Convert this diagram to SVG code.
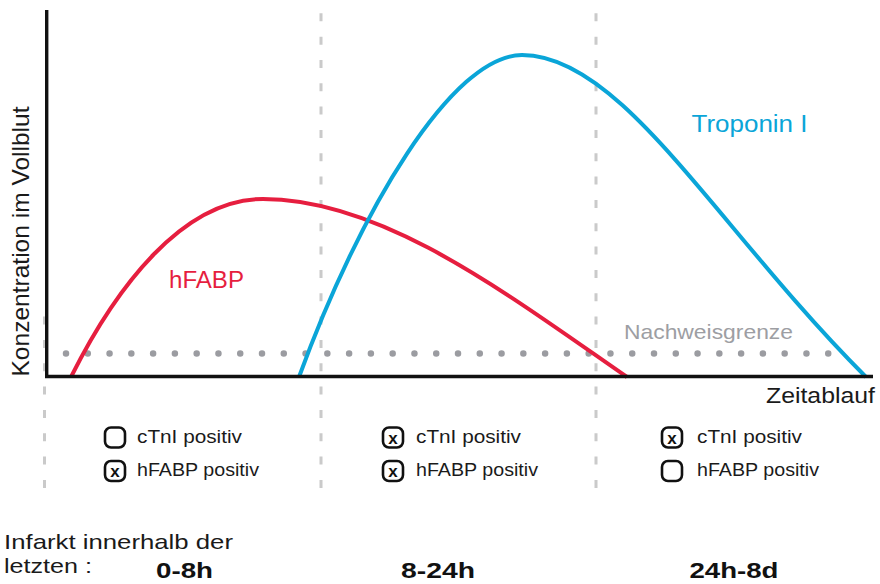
<svg xmlns="http://www.w3.org/2000/svg" width="880" height="584" viewBox="0 0 880 584">
  <style>
    .grid { stroke: #cacaca; stroke-width: 3; stroke-dasharray: 8 15.33; fill: none; }
    .dots { stroke: #9b9ca1; stroke-width: 6.5; stroke-linecap: round; stroke-dasharray: 0 21.778; fill: none; }
    .axis { stroke: #111; stroke-width: 3.4; fill: none; }
    .curve { fill: none; stroke-width: 4; stroke-linecap: butt; }
    .red { stroke: #e61e3f; }
    .blue { stroke: #0aa5d8; }
    .t { font-family: "Liberation Sans", Arial, sans-serif; fill: #1a1a1a; }
    .leg { font-family: "Liberation Sans", Arial, sans-serif; font-size: 18px; fill: #1a1a1a; }
    .bold { font-family: "Liberation Sans", Arial, sans-serif; font-weight: bold; font-size: 22px; fill: #111; }
    .box { fill: #fff; stroke: #111; stroke-width: 2.6; }
    .mark { font-family: "Liberation Sans", Arial, sans-serif; font-weight: bold; font-size: 17px; fill: #111; text-anchor: middle; }
  </style>

  <g id="grid">
    <line class="grid" x1="44.5" y1="316.6" x2="44.5" y2="490"/>
    <line class="grid" x1="321" y1="13.3" x2="321" y2="490"/>
    <line class="grid" x1="596" y1="13.3" x2="596" y2="490"/>
  </g>

  <g id="nachweisgrenze">
    <line class="dots" x1="66" y1="353.5" x2="850" y2="353.5"/>
    <text class="t" x="624" y="338.5" font-size="21" style="fill:#9d9ea3" textLength="169" lengthAdjust="spacingAndGlyphs">Nachweisgrenze</text>
  </g>

  <g id="connectors">
    <path id="hfabp-curve" class="curve red" d="M71,377 C116,287 183,199 263,199 C383,199 507,294 627,377"/>
    <path id="troponin-curve" class="curve blue" d="M299,377 C359,212 452,55 522,55 C622,55 716,227 866,377"/>
  </g>

  <g id="axes">
    <line class="axis" x1="46.7" y1="10" x2="46.7" y2="378"/>
    <line class="axis" x1="45" y1="376.5" x2="873" y2="376.5"/>
    <text class="t" transform="translate(28.5,376.5) rotate(-90)" font-size="24" textLength="270" lengthAdjust="spacingAndGlyphs">Konzentration im Vollblut</text>
    <text class="t" x="766" y="403.3" font-size="22" textLength="109" lengthAdjust="spacingAndGlyphs">Zeitablauf</text>
  </g>

  <g id="label-hfabp">
    <text class="t" x="169" y="288.3" font-size="23" style="fill:#e61e3f" textLength="75" lengthAdjust="spacingAndGlyphs">hFABP</text>
  </g>
  <g id="label-troponin">
    <text class="t" x="691.5" y="132.3" font-size="23" style="fill:#0aa5d8" textLength="116" lengthAdjust="spacingAndGlyphs">Troponin I</text>
  </g>

  <g id="col-0-8h">
    <rect class="box" x="105" y="427.5" width="20" height="20" rx="6"/>
    <text class="leg" x="137" y="442.5" textLength="105" lengthAdjust="spacingAndGlyphs">cTnI  positiv</text>
    <rect class="box" x="105" y="461" width="20" height="20" rx="6"/>
    <text class="mark" x="115" y="477">x</text>
    <text class="leg" x="137" y="476" textLength="122" lengthAdjust="spacingAndGlyphs">hFABP positiv</text>
  </g>

  <g id="col-8-24h">
    <rect class="box" x="383" y="427.5" width="20" height="20" rx="6"/>
    <text class="mark" x="393" y="443.5">x</text>
    <text class="leg" x="416" y="442.5" textLength="105" lengthAdjust="spacingAndGlyphs">cTnI  positiv</text>
    <rect class="box" x="383" y="461" width="20" height="20" rx="6"/>
    <text class="mark" x="393" y="477">x</text>
    <text class="leg" x="416" y="476" textLength="122" lengthAdjust="spacingAndGlyphs">hFABP positiv</text>
  </g>

  <g id="col-24h-8d">
    <rect class="box" x="662" y="427.5" width="20" height="20" rx="6"/>
    <text class="mark" x="672" y="443.5">x</text>
    <text class="leg" x="697" y="442.5" textLength="105" lengthAdjust="spacingAndGlyphs">cTnI  positiv</text>
    <rect class="box" x="662" y="461" width="20" height="20" rx="6"/>
    <text class="leg" x="697" y="476" textLength="122" lengthAdjust="spacingAndGlyphs">hFABP positiv</text>
  </g>

  <g id="footer">
    <text class="t" x="4" y="549.3" font-size="21" textLength="229" lengthAdjust="spacingAndGlyphs">Infarkt innerhalb der</text>
    <text class="t" x="4" y="572.7" font-size="21" textLength="88" lengthAdjust="spacingAndGlyphs">letzten :</text>
    <text class="bold" x="156" y="578" textLength="57" lengthAdjust="spacingAndGlyphs">0-8h</text>
    <text class="bold" x="401" y="578" textLength="74" lengthAdjust="spacingAndGlyphs">8-24h</text>
    <text class="bold" x="689.5" y="578" textLength="89" lengthAdjust="spacingAndGlyphs">24h-8d</text>
  </g>
</svg>
